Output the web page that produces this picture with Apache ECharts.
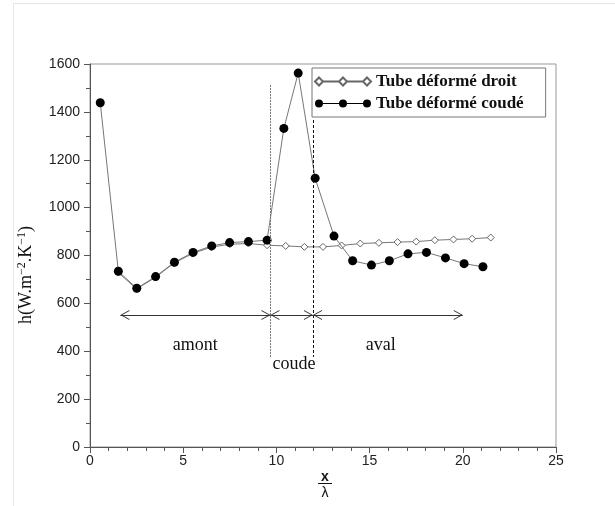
<!DOCTYPE html>
<html>
<head>
<meta charset="utf-8">
<title>h le long du tube</title>
<script src="https://cdn.jsdelivr.net/npm/echarts@6/dist/echarts.min.js"></script>
<style>
  html, body { margin: 0; padding: 0; background: #fff; }
  #chart { width: 615px; height: 506px; }
</style>
</head>
<body>
<div id="chart"></div>
<script>
// tube déformé droit
const droitX = [1.5, 2.5, 3.5, 4.5, 5.5, 6.5, 7.5, 8.5, 9.5, 10.5, 11.5, 12.5, 13.5, 14.5, 15.5, 16.5, 17.5, 18.5, 19.5, 20.5, 21.5];
const droitY = [730, 660, 708, 768, 808, 835, 847, 850, 843, 840, 836, 836, 842, 850, 853, 856, 858, 864, 867, 870, 875];
// tube déformé coudé
const coudeX = [0.55, 1.52, 2.51, 3.52, 4.53, 5.53, 6.53, 7.49, 8.5, 9.5, 10.4, 11.17, 12.08, 13.09, 14.09, 15.1, 16.06, 17.06, 18.05, 19.07, 20.07, 21.08];
const coudeY = [1438, 734, 663, 712, 772, 813, 840, 854, 858, 864, 1331, 1562, 1123, 881, 778, 760, 778, 807, 813, 790, 766, 753];
// limites des zones (x/lambda)
const zoneBounds = [1.63, 9.68, 11.96, 20.0];
const zoneNames = ['amont', 'coude', 'aval'];

const serif = '"Liberation Serif", "DejaVu Serif", serif';
const sans = '"Liberation Sans", Arial, sans-serif';

const iconDroit = 'path://M4,0 L8,4 L4,8 L0,4 Z M28,0 L32,4 L28,8 L24,4 Z M52,0 L56,4 L52,8 L48,4 Z M8,3.9 L24,3.9 L24,4.1 L8,4.1 Z M32,3.9 L48,3.9 L48,4.1 L32,4.1 Z';
const iconCoude = 'path://M0,4 A4,4 0 1,1 8,4 A4,4 0 1,1 0,4 Z M24,4 A4,4 0 1,1 32,4 A4,4 0 1,1 24,4 Z M48,4 A4,4 0 1,1 56,4 A4,4 0 1,1 48,4 Z M4,3.5 L52,3.5 L52,4.5 L4,4.5 Z';
const chevron = 'path://M0,10 L5,0 L10,10 L9,10 L5,2 L1,10 Z';

const chart = echarts.init(document.getElementById('chart'));

const arrowY = 551;
const arrowEnd = { symbol: chevron, symbolSize: [10, 9], symbolOffset: [0, 4.5] };
const arrows = [];
for (let i = 0; i < 3; i++) {
  arrows.push([
    Object.assign({ coord: [zoneBounds[i], arrowY] }, arrowEnd),
    Object.assign({ coord: [zoneBounds[i + 1], arrowY] }, arrowEnd)
  ]);
}

chart.setOption({
  animation: false,
  backgroundColor: '#fff',
  grid: { left: 90, right: 59, top: 64, bottom: 59, show: true, borderColor: '#999', borderWidth: 1 },
  legend: {
    orient: 'vertical',
    left: 312,
    top: 68,
    padding: [5, 22, 5, 2],
    itemGap: 5,
    itemWidth: 56,
    itemHeight: 8,
    backgroundColor: '#fff',
    borderColor: '#777',
    borderWidth: 1,
    textStyle: { fontFamily: serif, fontSize: 17, fontWeight: 'bold', color: '#111', lineHeight: 16 },
    data: [
      { name: 'Tube déformé droit', icon: iconDroit },
      { name: 'Tube déformé coudé', icon: iconCoude }
    ]
  },
  xAxis: {
    type: 'value',
    min: 0, max: 25, interval: 5,
    splitLine: { show: false },
    axisLine: { onZero: false, lineStyle: { color: '#555' } },
    axisTick: { length: 6, lineStyle: { color: '#555' } },
    minorTick: { show: true, splitNumber: 5, length: 4, lineStyle: { color: '#555' } },
    axisLabel: { fontFamily: sans, fontSize: 14, color: '#222', margin: 7 }
  },
  yAxis: {
    type: 'value',
    min: 0, max: 1600, interval: 200,
    splitLine: { show: false },
    axisLine: { show: true, lineStyle: { color: '#555' } },
    axisTick: { show: true, length: 6, lineStyle: { color: '#555' } },
    minorTick: { show: true, splitNumber: 2, length: 4, lineStyle: { color: '#555' } },
    axisLabel: { fontFamily: sans, fontSize: 14, color: '#222', margin: 10, formatter: v => String(v) }
  },
  graphic: [
    { type: 'line', shape: { x1: 13.5, y1: 3, x2: 13.5, y2: 506 }, style: { stroke: '#e6e6e6', lineWidth: 1 }, silent: true },
    { type: 'line', shape: { x1: 13, y1: 3.5, x2: 615, y2: 3.5 }, style: { stroke: '#e6e6e6', lineWidth: 1 }, silent: true },
    { type: 'text', x: 26, y: 275, rotation: Math.PI / 2,
      style: {
        text: 'h(W.m{s|−2}.K{s|−1})',
        font: '18px ' + serif, fill: '#111', align: 'center', verticalAlign: 'middle',
        rich: { s: { fontSize: 12, fontFamily: serif, padding: [0, 0, 8, 0] } }
      } },
    { type: 'text', x: 325, y: 477,
      style: { text: 'x', font: 'bold 14px ' + sans, fill: '#111', align: 'center', verticalAlign: 'middle' } },
    { type: 'line', shape: { x1: 318, y1: 483.5, x2: 332, y2: 483.5 }, style: { stroke: '#111', lineWidth: 1 } },
    { type: 'text', x: 325, y: 493,
      style: { text: 'λ', font: '14px ' + sans, fill: '#111', align: 'center', verticalAlign: 'middle' } }
  ],
  series: [
    {
      name: 'Tube déformé droit',
      type: 'line',
      data: droitX.map((x, i) => [x, droitY[i]]),
      symbol: 'diamond',
      symbolSize: 7,
      lineStyle: { color: '#777', width: 1 },
      itemStyle: { color: '#fff', borderColor: '#666', borderWidth: 1 },
      z: 2
    },
    {
      name: 'Tube déformé coudé',
      type: 'line',
      data: coudeX.map((x, i) => [x, coudeY[i]]),
      symbol: 'circle',
      symbolSize: 9,
      lineStyle: { color: '#777', width: 1 },
      itemStyle: { color: '#000', borderWidth: 0 },
      z: 3,
      markLine: {
        silent: true,
        animation: false,
        label: { show: false },
        lineStyle: { color: '#333', width: 1, type: 'solid' },
        data: [
          [{ coord: [zoneBounds[1], 1512], symbol: 'none', lineStyle: { color: '#777', type: [2, 1] } },
           { coord: [zoneBounds[1], 376], symbol: 'none' }],
          [{ coord: [zoneBounds[2], 1366], symbol: 'none', lineStyle: { color: '#111', type: [3, 2] } },
           { coord: [zoneBounds[2], 376], symbol: 'none' }]
        ].concat(arrows)
      },
      markPoint: {
        silent: true,
        symbol: 'circle',
        symbolSize: 0,
        label: { show: true, position: 'inside', fontFamily: serif, fontSize: 18, color: '#111', formatter: p => p.name },
        data: [
          { name: zoneNames[0], coord: [5.65, 425] },
          { name: zoneNames[1], coord: [10.95, 346] },
          { name: zoneNames[2], coord: [15.6, 425] }
        ]
      }
    }
  ]
});
</script>
</body>
</html>
